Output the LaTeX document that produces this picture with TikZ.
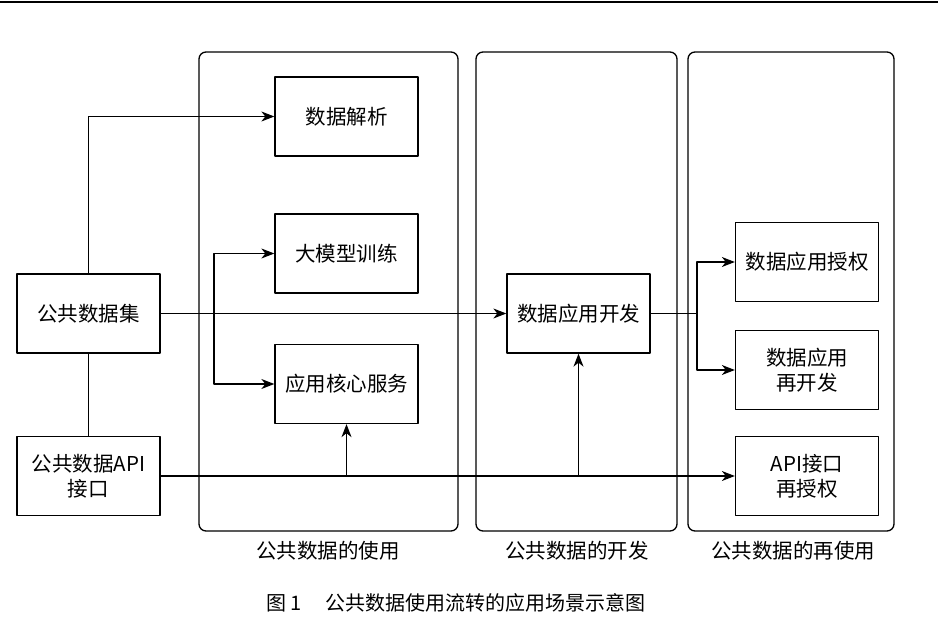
\documentclass[tikz,border=0pt]{standalone}
\usepackage{fontspec}
\setmainfont{Liberation Serif}
\newfontfamily\cjk{Noto Sans CJK SC}
\usetikzlibrary{positioning,arrows.meta}

\begin{document}
\begin{tikzpicture}[x=1pt,y=-1pt,>={Stealth[length=13pt,width=10pt,inset=4pt]}, font=\cjk\fontsize{20.5}{25}\selectfont, line join=round, line width=1.3pt]
	\tikzset{box/.style={draw, minimum width=143pt, minimum height=79pt, align=center, inner sep=2pt}}
	\tikzset{panel/.style={draw, rounded corners=7pt}}
	\useasboundingbox (0,0) rectangle (938,618);
	\draw[line width=2pt] (0,2)--(938,2);
	\draw[panel] (199,52) rectangle (458,531);
	\draw[panel] (476,52) rectangle (677,531);
	\draw[panel] (688,52) rectangle (894,531);
	\node[box] (ds) at (88.5,313.5) {公共数据集};
	\node[box] (api) at (88.5,476) {公共数据API\\接口};
	\node[box] (parse) at (346.5,116.5) {数据解析};
	\node[box] (train) at (346.5,253.5) {大模型训练};
	\node[box] (core) at (346.5,384) {应用核心服务};
	\node[box] (dev) at (578.5,313.5) {数据应用开发};
	\node[box] (auth) at (807,262) {数据应用授权};
	\node[box] (redev) at (807,370) {数据应用\\再开发};
	\node[box] (reauth) at (807,476) {API接口\\再授权};
	\coordinate (s1) at (214,313.5);
	\coordinate (s2) at (697,313.5);
	\draw[->] (ds.north) |- (parse.west);
	\draw (ds.south)--(api.north);
	\draw[->] (ds.east)--(dev.west);
	\draw[->] (s1) |- (train.west);
	\draw[->] (s1) |- (core.west);
	\draw (dev.east)--(s2);
	\draw[->] (s2) |- (auth.west);
	\draw[->] (s2) |- (redev.west);
	\draw[->] (api.east)--(reauth.west);
	\draw[->] (core.south |- api.east)--(core.south);
	\draw[->] (dev.south |- api.east)--(dev.south);
	\path
	(328,551)node(use){公共数据的使用}
	(577,551)node(develop){公共数据的开发}
	(793,551)node(reuse){公共数据的再使用}
	(456,603)node[font=\cjk\fontsize{20}{24}\selectfont](caption){图\,1\hspace{1.2em}公共数据使用流转的应用场景示意图}
	;
\end{tikzpicture}
\end{document}
